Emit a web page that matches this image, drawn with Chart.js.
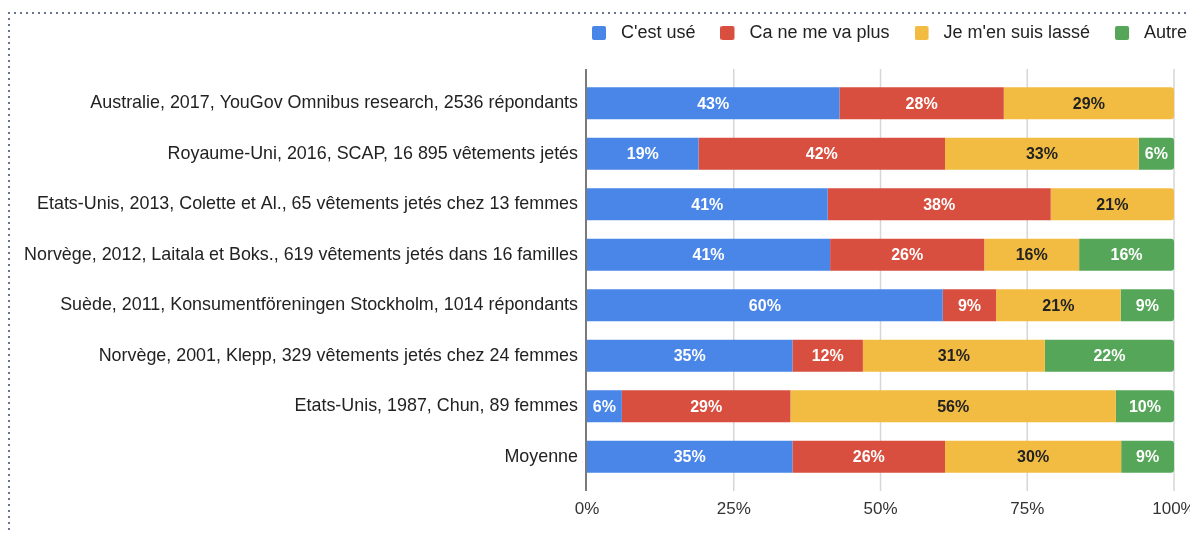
<!DOCTYPE html>
<html>
<head>
<meta charset="utf-8">
<script src="https://cdn.jsdelivr.net/npm/chart.js@4.4.1/dist/chart.umd.min.js"></script>
<style>
  html, body { margin: 0; padding: 0; background: #ffffff; }
  #wrap { position: relative; width: 1190px; height: 533px; overflow: hidden; }
  #c { position: absolute; left: 0; top: 0; }
  .dotH { position: absolute; left: 8px; top: 12px; width: 1182px; height: 2px;
          background-image: linear-gradient(to right, #6b7590 2px, transparent 2px);
          background-size: 6px 2px; background-repeat: repeat-x; pointer-events: none; }
  .dotV { position: absolute; left: 8px; top: 12px; width: 2px; height: 521px;
          background-image: linear-gradient(to bottom, #6b7590 2px, transparent 2px);
          background-size: 2px 6px; background-repeat: repeat-y; pointer-events: none; }
</style>
</head>
<body>
<div id="wrap">
  <canvas id="c" width="1190" height="533"></canvas>
  <div class="dotH"></div>
  <div class="dotV"></div>
</div>
<script>
// ---- Data (in %) ----
const categories = [
  "Australie, 2017, YouGov Omnibus research, 2536 répondants",
  "Royaume-Uni, 2016, SCAP, 16 895 vêtements jetés",
  "Etats-Unis, 2013, Colette et Al., 65 vêtements jetés chez 13 femmes",
  "Norvège, 2012, Laitala et Boks., 619 vêtements jetés dans 16 familles",
  "Suède, 2011, Konsumentföreningen Stockholm, 1014 répondants",
  "Norvège, 2001, Klepp, 329 vêtements jetés chez 24 femmes",
  "Etats-Unis, 1987, Chun, 89 femmes",
  "Moyenne"
];
const seriesNames = ["C'est usé", "Ca ne me va plus", "Je m'en suis lassé", "Autre"];
const cestUse   = [43, 19, 41, 41, 60, 35,  6, 35];
const neVaPlus  = [28, 42, 38, 26,  9, 12, 29, 26];
const lasse     = [29, 33, 21, 16, 21, 31, 56, 30];
const autre     = [ 0,  6,  0, 16,  9, 22, 10,  9];
const xTickValues = [0, 25, 50, 75, 100];

const rawSeries = [cestUse, neVaPlus, lasse, autre];
const colors = ['#4a86e8', '#d94f3f', '#f2bc42', '#56a65a'];
const labelColors = ['#ffffff', '#ffffff', '#222222', '#ffffff'];
const FONT = '"Liberation Sans", Arial, Helvetica, sans-serif';

// 100% stacked: each row is shown as share of its row total
const rowTotals = categories.map((_, j) => rawSeries.reduce((s, arr) => s + arr[j], 0));
const datasets = rawSeries.map((arr, i) => ({
  label: seriesNames[i],
  data: arr.map((v, j) => v / rowTotals[j] * 100),
  backgroundColor: colors[i],
  borderWidth: 0,
  borderRadius: 3,
  barPercentage: 0.63,
  categoryPercentage: 1.0
}));

function makeSwatch(color) {
  const cv = document.createElement('canvas');
  cv.width = 20; cv.height = 14;
  const g = cv.getContext('2d');
  g.fillStyle = color;
  g.beginPath();
  if (g.roundRect) g.roundRect(0, 0, 14, 14, 2); else g.rect(0, 0, 14, 14);
  g.fill();
  return cv;
}
const swatches = colors.map(makeSwatch);

const gridPlugin = {
  id: 'gridPlugin',
  beforeDatasetsDraw(chart) {
    const { ctx, chartArea, scales } = chart;
    const x = scales.x;
    ctx.save();
    xTickValues.forEach(v => {
      const px = x.getPixelForValue(v);
      ctx.beginPath();
      if (v === 0) {
        ctx.strokeStyle = '#7a7a7a';
        ctx.lineWidth = 2;
        ctx.moveTo(px - 1, chartArea.top - 9);
        ctx.lineTo(px - 1, chartArea.bottom + 9);
      } else {
        ctx.strokeStyle = '#d6d6d6';
        ctx.lineWidth = 1.5;
        ctx.moveTo(px, chartArea.top - 9);
        ctx.lineTo(px, chartArea.bottom + 9);
      }
      ctx.stroke();
    });
    ctx.restore();
  }
};

const barLabelPlugin = {
  id: 'barLabelPlugin',
  afterDatasetsDraw(chart) {
    const { ctx } = chart;
    ctx.save();
    ctx.font = 'bold 16px ' + FONT;
    ctx.textAlign = 'center';
    ctx.textBaseline = 'middle';
    chart.data.datasets.forEach((ds, i) => {
      const meta = chart.getDatasetMeta(i);
      meta.data.forEach((bar, j) => {
        const raw = rawSeries[i][j];
        if (!raw) return;
        ctx.fillStyle = labelColors[i];
        ctx.fillText(raw + '%', (bar.x + bar.base) / 2, bar.y + 1);
      });
    });
    ctx.restore();
  }
};

const legendPlace = {
  id: 'legendPlace',
  beforeDraw(chart) {
    const lg = chart.legend;
    if (!lg) return;
    lg.left = 567;
    lg.right = 1500;
    lg.top = -1;
  }
};

new Chart(document.getElementById('c'), {
  type: 'bar',
  data: { labels: categories, datasets },
  options: {
    indexAxis: 'y',
    responsive: false,
    devicePixelRatio: 1,
    animation: false,
    layout: { padding: { top: 25, right: 16, bottom: 14, left: 0 } },
    scales: {
      x: {
        stacked: true, min: 0, max: 100,
        grid: { display: false, drawTicks: false },
        border: { display: false },
        afterBuildTicks(s) { s.ticks = xTickValues.map(v => ({ value: v })); },
        ticks: { callback: v => v + '%', padding: 17, color: '#333333', font: { size: 17, family: FONT } },
        afterFit(s) { s.paddingRight = 0; s.paddingLeft = 0; s.height = 37; }
      },
      y: {
        stacked: true,
        grid: { display: false, drawTicks: false },
        border: { display: false },
        ticks: { padding: 9, color: '#222222', font: { size: 17.9, family: FONT } },
        afterFit(s) { s.width = 587; }
      }
    },
    plugins: {
      tooltip: { enabled: false },
      legend: {
        position: 'top',
        align: 'start',
        labels: {
          usePointStyle: true,
          pointStyleWidth: 20,
          padding: 25,
          color: '#222222',
          font: { size: 18, family: FONT },
          generateLabels(chart) {
            return chart.data.datasets.map((ds, i) => ({
              text: ds.label,
              fillStyle: colors[i],
              strokeStyle: colors[i],
              lineWidth: 0,
              pointStyle: swatches[i],
              fontColor: '#222222',
              hidden: false,
              datasetIndex: i
            }));
          }
        }
      }
    }
  },
  plugins: [gridPlugin, barLabelPlugin, legendPlace]
});
</script>
</body>
</html>
